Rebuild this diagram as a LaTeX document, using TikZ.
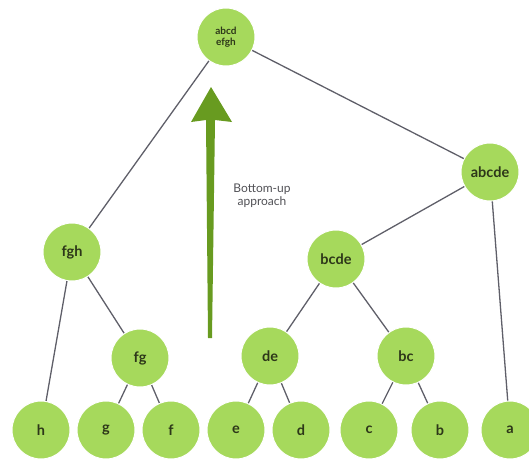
\documentclass[tikz,border=0pt]{standalone}
\usepackage{fontspec}
\setmainfont{Lato}
\definecolor{nodegreen}{RGB}{166,217,92}
\definecolor{arrowgreen}{RGB}{104,155,32}
\definecolor{edgegray}{RGB}{95,95,105}
\definecolor{textdark}{RGB}{45,55,25}
\definecolor{labelgray}{RGB}{80,80,85}
\usetikzlibrary{positioning}

\begin{document}
\begin{tikzpicture}[x=1pt, y=-1pt,
    treenode/.style={circle, fill=nodegreen, draw=white, line width=1pt, minimum size=58pt,
      inner sep=0pt, align=center, text=textdark, font=\bfseries\fontsize{14.5}{16}\selectfont},
    rootnode/.style={treenode, font=\bfseries\fontsize{10}{10.5}\selectfont},
    edge/.style={draw=edgegray, line width=1.3pt}
  ]
    \clip (0,0) rectangle (529,458);
    \useasboundingbox (0,0) rectangle (529,458);
    % Inner nodes
    \node[rootnode] (abcdefgh) at (226, 37) {abcd\\efgh};
    \node[treenode] (abcde) at (490, 172) {abcde};
    \node[treenode] (fgh) at (72, 252) {fgh};
    \node[treenode] (bcde) at (336, 259) {bcde};
    \node[treenode] (fg) at (140, 358) {fg};
    \node[treenode] (de) at (270, 356) {de};
    \node[treenode] (bc) at (406, 356) {bc};
    % Leaves
    \node[treenode] (h) at (41, 430) {h};
    \node[treenode] (g) at (106, 430) {g};
    \node[treenode] (f) at (171, 430) {f};
    \node[treenode] (e) at (236, 430) {e};
    \node[treenode] (d) at (301, 430) {d};
    \node[treenode] (c) at (369, 430) {c};
    \node[treenode] (b) at (440, 430) {b};
    \node[treenode] (a) at (510, 430) {a};
    % Edges
    \foreach \u/\v in {abcdefgh/fgh, abcdefgh/abcde, abcde/bcde, abcde/a, fgh/h, fgh/fg,
        fg/g, fg/f, bcde/de, bcde/bc, de/e, de/d, bc/c, bc/b}
      \draw[edge] (\u) -- (\v);
    % Bottom-up arrow
    \fill[arrowgreen] (208,338) -- (212,338) -- (215,120) -- (232,122) -- (211,87)
      -- (191,122) -- (206,120) -- cycle;
    \node[text=labelgray, align=center, font=\fontsize{12}{13}\selectfont] (label) at (262, 196)
      {Bottom-up\\approach};
\end{tikzpicture}
\end{document}
